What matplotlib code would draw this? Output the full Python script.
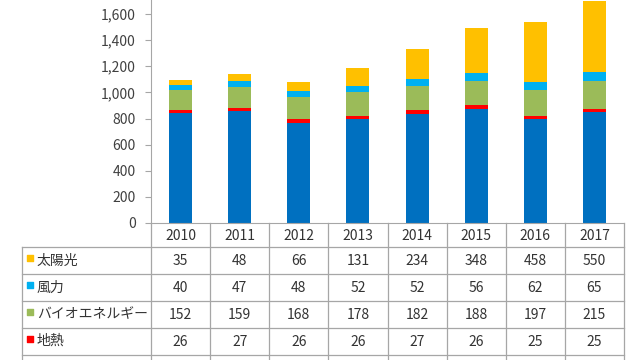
import matplotlib
matplotlib.use("Agg")
import numpy as np
import matplotlib.pyplot as plt

plt.rcParams["font.family"] = ["Noto Sans CJK JP", "DejaVu Sans"]

# データ
years = ["2010", "2011", "2012", "2013", "2014", "2015", "2016", "2017"]
solar = [35, 48, 66, 131, 234, 348, 458, 550]
wind = [40, 47, 48, 52, 52, 56, 62, 65]
bio = [152, 159, 168, 178, 182, 188, 197, 215]
geo = [26, 27, 26, 26, 27, 26, 25, 25]
hydro = [839, 856, 768, 796, 838, 875, 797, 848]   # 表の下段は切れているので棒から読み取り

# 積み上げ順(下から)
stack = [
    ("水力", hydro, "#0070C0"),
    ("地熱", geo, "#FF0000"),
    ("バイオエネルギー", bio, "#9BBB59"),
    ("風力", wind, "#00B0F0"),
    ("太陽光", solar, "#FFC000"),
]
# 表の並び順(水力の行は画像の下端で切れている)
table_rows = [stack[4], stack[3], stack[2], stack[1]]

W, H = 640, 360
fig = plt.figure(figsize=(6.4, 3.6), dpi=100)

x_left, x_right, y_zero = 151, 624, 223
ymax = 1800
px_per = 209 / 1600
ax_h = ymax * px_per
ax = fig.add_axes([x_left / W, (H - y_zero) / H, (x_right - x_left) / W, ax_h / H])

x = np.arange(len(years))
bottom = np.zeros(len(years))
for name, vals, col in stack:
    ax.bar(x, vals, 0.39, bottom=bottom, color=col, zorder=2)
    bottom += np.array(vals)

ax.set_xlim(-0.5, len(years) - 0.5)
ax.set_ylim(0, ymax)
ax.set_yticks(range(0, 1601, 200))
ax.set_yticklabels([f"{v:,}" for v in range(0, 1601, 200)])
ax.set_xticks([])
for s in ["top", "right"]:
    ax.spines[s].set_visible(False)
grey = "#A6A6A6"
ax.spines["left"].set_color(grey)
ax.spines["bottom"].set_color(grey)
ax.tick_params(axis="y", length=4, color=grey, pad=7, labelsize=10, labelcolor="#404040")

# データテーブル
col_w = (x_right - x_left) / len(years)
label_w = (x_left - 22) / col_w
tab_h = 170
tax = fig.add_axes([22 / W, (H - y_zero - tab_h) / H, (x_right - 22) / W, tab_h / H])
left = -0.5 - label_w
tax.set_xlim(left, len(years) - 0.5)
tax.set_ylim(tab_h, 0)
tax.axis("off")

head_h, row_h = 24, 26.9
n_lines = len(table_rows) + 1
bottom_y = head_h + row_h * n_lines
txt = "#333333"
for i, yr in enumerate(years):
    tax.text(i, head_h / 2 + 1, yr, ha="center", va="center", fontsize=10, color=txt)
for k in range(len(years) + 1):
    tax.plot([k - 0.5, k - 0.5], [0, bottom_y], color=grey, lw=0.9, clip_on=False)
tax.plot([left, left], [head_h, bottom_y], color=grey, lw=0.9, clip_on=False)
for r in range(n_lines):
    yy = head_h + r * row_h
    tax.plot([left, len(years) - 0.5], [yy, yy], color=grey, lw=0.9, clip_on=False)

for r, (name, vals, col) in enumerate(table_rows):
    yc = head_h + (r + 0.5) * row_h
    tax.scatter([left + 0.13], [yc - 2.5], marker="s", s=22, color=col, clip_on=False)
    tax.text(left + 0.25, yc, name, ha="left", va="center", fontsize=10, color=txt)
    for i, v in enumerate(vals):
        tax.text(i, yc + 1, str(v), ha="center", va="center", fontsize=10, color=txt)

fig.savefig("out.png", dpi=100)
